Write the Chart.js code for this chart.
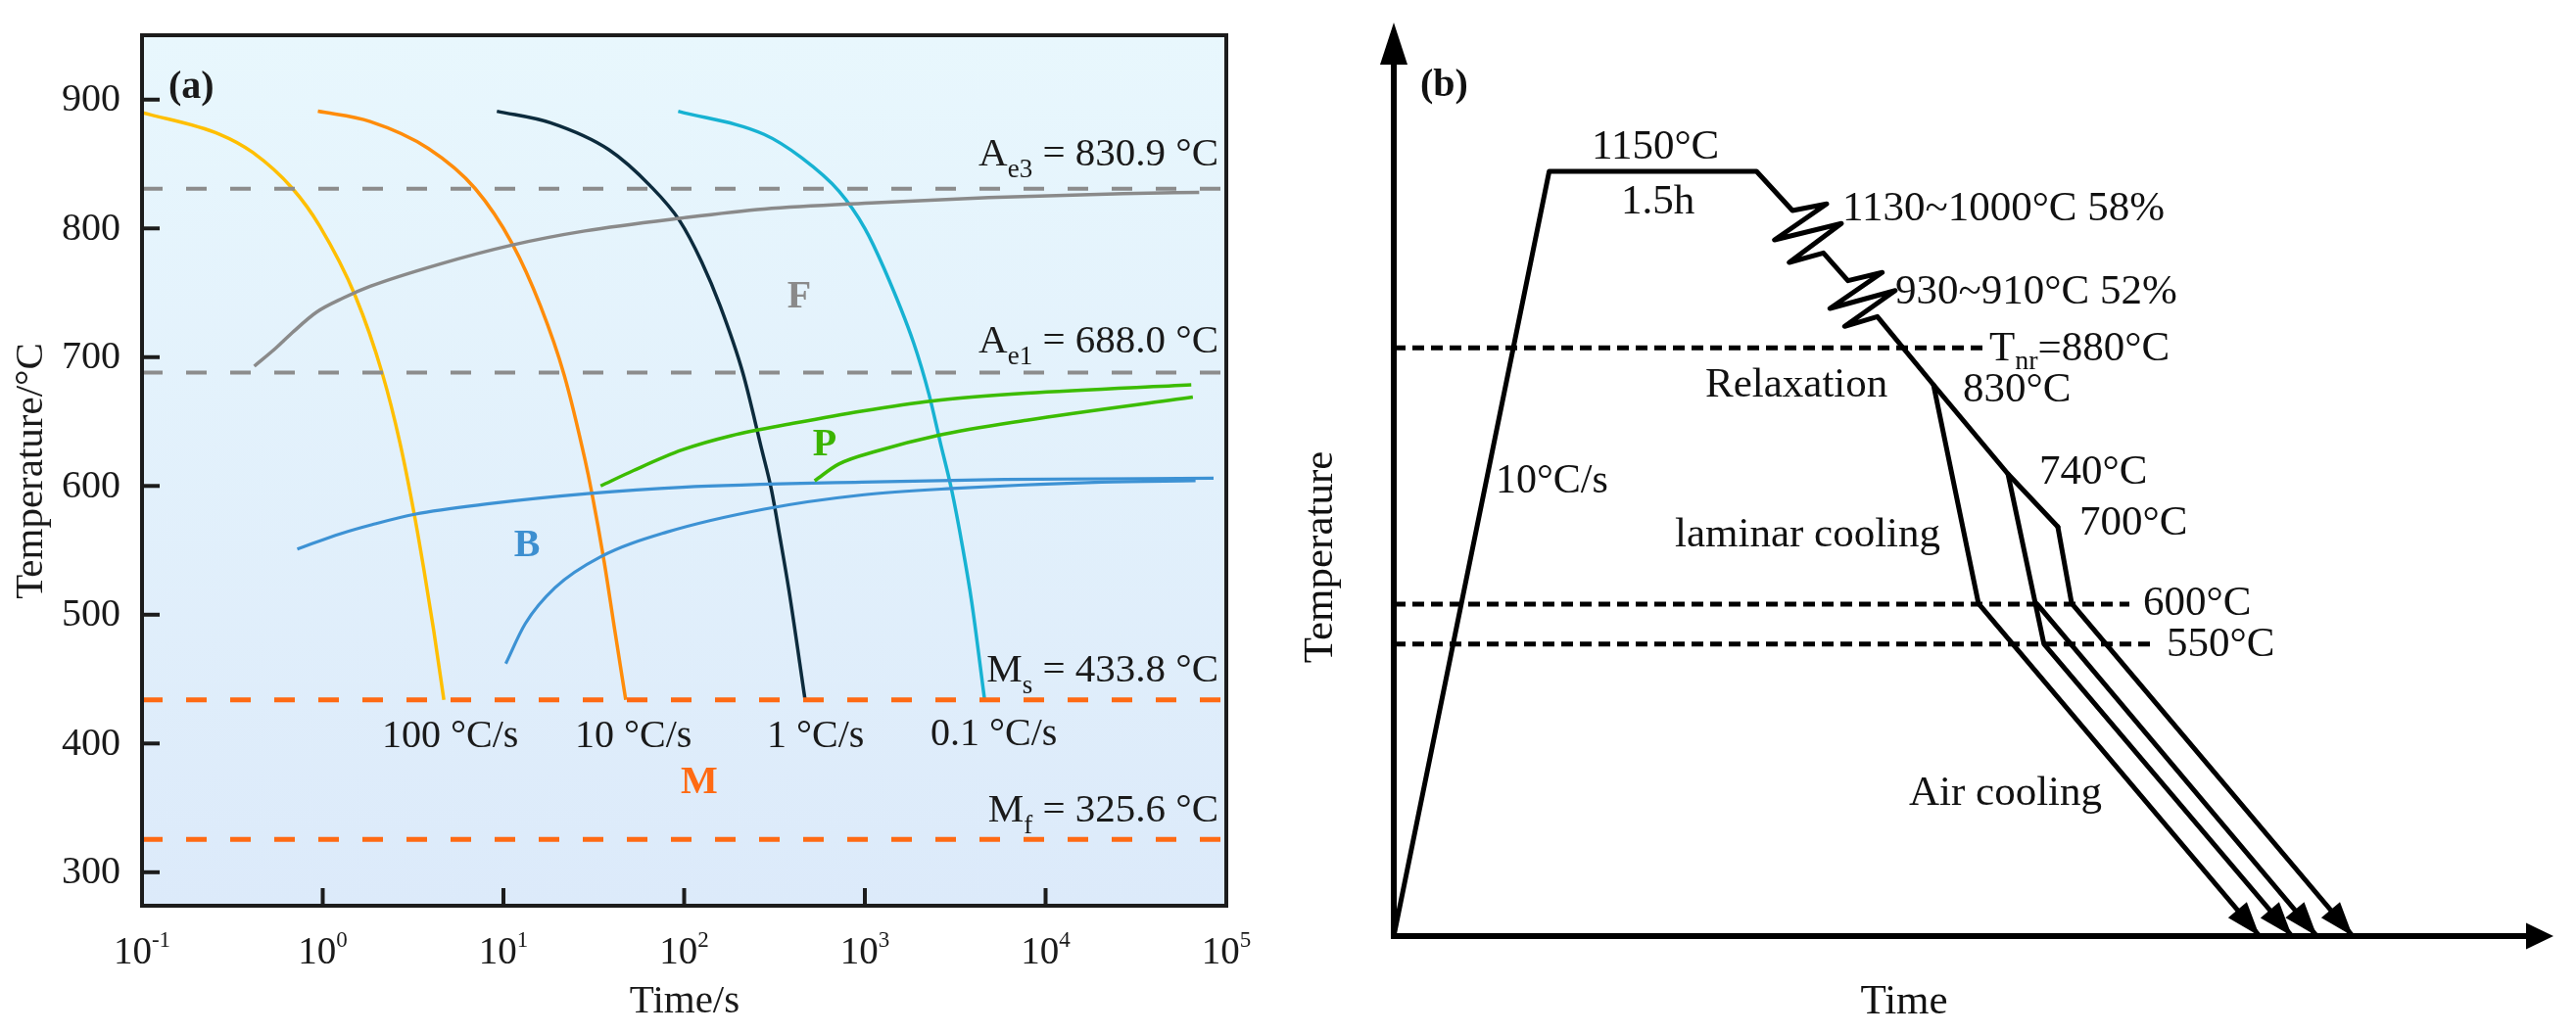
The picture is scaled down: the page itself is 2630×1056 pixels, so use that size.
<!DOCTYPE html>
<html><head><meta charset="utf-8">
<script src="https://cdn.jsdelivr.net/npm/chart.js@4.4.1/dist/chart.umd.min.js"></script>
<style>
html,body{margin:0;padding:0;background:#fff;width:2630px;height:1056px;overflow:hidden;}
canvas{position:absolute;top:0;}
#ca{left:0;} #cb{left:1300px;}
</style></head><body>
<canvas id="ca" width="1300" height="1056"></canvas>
<canvas id="cb" width="1330" height="1056"></canvas>
<script>
// ================= Panel (a) data: CCT diagram =================
const xTickValues = [0.1, 1, 10, 100, 1000, 10000, 100000];
const xTickExponents = ['-1', '0', '1', '2', '3', '4', '5'];
const yTickValues = [300, 400, 500, 600, 700, 800, 900];
const refSymbols = ['A', 'A', 'M', 'M'];
const refSubs = ['e3', 'e1', 's', 'f'];
const refTemps = [830.9, 688.0, 433.8, 325.6];
const coolingRates = ['100', '10', '1', '0.1'];
const phaseLetters = ['F', 'P', 'B', 'M'];

const cool100Time = [0.1, 0.27, 0.41, 0.68, 0.96, 1.52, 2.14, 2.67, 3.21, 3.63, 4.11, 4.68];
const cool100Temp = [890, 873, 859, 831, 802, 747, 687, 634, 578, 535, 488, 433.8];
const cool10Time = [0.94, 1.83, 3.85, 6.97, 11.2, 16.0, 21.7, 28.2, 30.9, 36.1, 41.3, 47.5];
const cool10Temp = [891, 883, 862, 831, 788, 740, 686, 621, 594, 541, 488, 433.8];
const cool1Time = [9.2, 18.2, 38.4, 65, 94.4, 125, 158, 211, 269, 304, 339, 380, 467];
const cool1Temp = [891, 882, 861, 833, 806, 774, 740, 688, 628, 597, 560, 519, 433.8];
const cool01Time = [92.7, 277, 445, 718, 1000, 1276, 1862, 2265, 2612, 3020, 3467, 3900, 4600];
const cool01Temp = [891, 873, 855, 829, 800, 769, 711, 671, 634, 597, 553, 510, 433.8];

const ferriteTime = [0.418, 0.55, 0.678, 0.925, 1.3, 1.83, 4.37, 11.1, 28.2, 97, 277, 1159, 4853, 26900, 70800];
const ferriteTemp = [693, 707, 719, 735, 746, 755, 772, 787, 798, 808, 815, 820, 824, 827, 828];
const pearlite1Time = [34.5, 52.5, 97.7, 182, 417, 955, 2366, 7834, 64000];
const pearlite1Temp = [600, 612, 628, 639, 649, 658, 666, 672, 678.5];
const pearlite2Time = [527, 718, 1159, 2489, 7834, 65300];
const pearlite2Temp = [604, 617, 627, 639, 651, 669];
const bainite1Time = [0.723, 1.26, 1.88, 3.22, 8.13, 29.2, 97.7, 964, 5890, 85000];
const bainite1Temp = [551, 563, 570, 578, 586, 594, 599, 603, 605, 606];
const bainite2Time = [10.3, 13.2, 19.3, 34.5, 79.4, 277, 964, 3020, 20400, 67600];
const bainite2Temp = [462, 493, 521, 545, 564, 582, 593, 598, 603, 604];

// ================= Panel (b) data: schematic process (schematic units) =================
const mainPathX = [0, 13.4, 31.28, 34.38, 37.33, 32.83, 38.6, 34.1, 37.05, 39.16, 42.12, 37.61, 43.24, 38.88, 41.7, 46.54, 52.96, 57.26];
const mainPathY = [0, 83.71, 83.71, 79.42, 80.14, 76.21, 78.0, 73.74, 74.78, 71.74, 72.64, 68.7, 70.66, 66.74, 67.81, 60.34, 50.59, 44.8];
const route830X = [46.54, 50.42, 74.66];
const route830Y = [60.34, 36.39, 0];
const route740to550X = [52.96, 56.06, 77.45];
const route740to550Y = [50.59, 31.99, 0];
const route740at600X = [55.49, 79.6];
const route740at600Y = [36.33, 0];
const route700X = [57.26, 58.45, 82.69];
const route700Y = [44.8, 36.44, 0];
const dashLevels = [64.4, 36.33, 31.96];     // Tnr=880°C, 600°C, 550°C
const dashEnds = [51.06, 63.43, 65.75];

// ================= helpers =================
const FONT = '"Liberation Serif", "Times New Roman", Times, serif';
function pts(xs, ys) { return xs.map((x, i) => ({ x: x, y: ys[i] })); }
function setFont(ctx, size, weight) { ctx.font = (weight || 'normal') + ' ' + size + 'px ' + FONT; }
function drawRuns(ctx, parts, x, y, align) {
  const widths = parts.map(p => { setFont(ctx, p[1], p[3]); return ctx.measureText(p[0]).width; });
  const total = widths.reduce((a, b) => a + b, 0);
  let cx = align === 'right' ? x - total : (align === 'center' ? x - total / 2 : x);
  ctx.textAlign = 'left';
  ctx.textBaseline = 'alphabetic';
  parts.forEach((p, i) => { setFont(ctx, p[1], p[3]); ctx.fillText(p[0], cx, y + (p[2] || 0)); cx += widths[i]; });
}
function text(ctx, s, x, y, size, align, weight, base) {
  setFont(ctx, size, weight);
  ctx.textAlign = align || 'left';
  ctx.textBaseline = base || 'alphabetic';
  ctx.fillText(s, x, y);
}
function arrowHead(ctx, x1, y1, x2, y2, len, half) {
  const a = Math.atan2(y2 - y1, x2 - x1);
  const bx = x2 - len * Math.cos(a), by = y2 - len * Math.sin(a);
  ctx.beginPath();
  ctx.moveTo(x2, y2);
  ctx.lineTo(bx + half * Math.sin(a), by - half * Math.cos(a));
  ctx.lineTo(bx - half * Math.sin(a), by + half * Math.cos(a));
  ctx.closePath();
  ctx.fill();
}

// ================= Chart A =================
const curve = (label, xs, ys, color, w) => ({
  label: label, data: pts(xs, ys), borderColor: color, borderWidth: w,
  pointRadius: 0, cubicInterpolationMode: 'monotone', fill: false
});
const xMin = xTickValues[0], xMax = xTickValues[xTickValues.length - 1];
const refColors = ['#8c8c8c', '#8c8c8c', '#ff6a13', '#ff6a13'];
const refWidths = [4, 4, 5, 5];
const refDatasets = refTemps.map((t, i) => ({
  label: refSymbols[i] + refSubs[i], data: pts([xMin, xMax], [t, t]),
  borderColor: refColors[i], borderWidth: refWidths[i], borderDash: [21, 24], pointRadius: 0, borderCapStyle: 'butt'
}));

const panelA = {
  id: 'panelA',
  beforeDatasetsDraw(chart) {
    const { ctx, chartArea: a } = chart;
    const g = ctx.createLinearGradient(0, a.top, 0, a.bottom);
    g.addColorStop(0, '#e8f7fd');
    g.addColorStop(1, '#dceafa');
    ctx.save(); ctx.fillStyle = g; ctx.fillRect(a.left, a.top, a.right - a.left, a.bottom - a.top); ctx.restore();
  },
  afterDatasetsDraw(chart) {
    const { ctx, chartArea: a } = chart;
    const xs = chart.scales.x, ys = chart.scales.y;
    ctx.save();
    ctx.strokeStyle = '#1c1c1c'; ctx.lineWidth = 4;
    ctx.strokeRect(a.left, a.top, a.right - a.left, a.bottom - a.top);
    ctx.lineWidth = 4;
    yTickValues.forEach(v => { const y = ys.getPixelForValue(v); ctx.beginPath(); ctx.moveTo(a.left, y); ctx.lineTo(a.left + 18, y); ctx.stroke(); });
    xTickValues.forEach(v => { const x = xs.getPixelForValue(v); ctx.beginPath(); ctx.moveTo(x, a.bottom); ctx.lineTo(x, a.bottom - 18); ctx.stroke(); });
    ctx.fillStyle = '#1a1a1a';
    yTickValues.forEach(v => text(ctx, String(v), a.left - 22, ys.getPixelForValue(v) + 1, 40, 'right', 'normal', 'middle'));
    xTickValues.forEach((v, i) => drawRuns(ctx, [['10', 39], [xTickExponents[i], 23, -17]], xs.getPixelForValue(v), 984, 'center'));
    text(ctx, 'Time/s', 699, 1034, 41, 'center');
    ctx.save(); ctx.translate(32, 481); ctx.rotate(-Math.PI / 2);
    text(ctx, 'Temperature/°C', 0, 0, 41, 'center', 'normal', 'middle'); ctx.restore();
    text(ctx, '(a)', 172, 100, 40, 'left', 'bold');
    const lift = [24, 21, 19, 18];
    refTemps.forEach((t, i) => {
      drawRuns(ctx, [[refSymbols[i], 41], [refSubs[i], 27, 12], [' = ' + t.toFixed(1) + ' °C', 41]],
        1244, ys.getPixelForValue(t) - lift[i], 'right');
    });
    const rateX = [390, 587, 783, 950];
    coolingRates.forEach((r, i) => text(ctx, r + ' °C/s', rateX[i], i === 3 ? 761 : 763, 40, 'left'));
    const phasePos = [[816, 304, '#8a8a8a'], [842, 455, '#3cb400'], [538, 558, '#3d8fd0'], [714, 800, '#ff6a13']];
    phaseLetters.forEach((p, i) => { ctx.fillStyle = phasePos[i][2]; text(ctx, p, phasePos[i][0], phasePos[i][1], 40, 'center', 'bold', 'middle'); });
    ctx.restore();
  }
};

new Chart(document.getElementById('ca'), {
  type: 'line',
  data: {
    datasets: [
      ...refDatasets,
      curve('F start', ferriteTime, ferriteTemp, '#8a8a8a', 3.5),
      curve('P start', pearlite1Time, pearlite1Temp, '#3cbc00', 3.5),
      curve('P finish', pearlite2Time, pearlite2Temp, '#3cbc00', 3.5),
      curve('B start', bainite1Time, bainite1Temp, '#3d92d4', 3.2),
      curve('B finish', bainite2Time, bainite2Temp, '#3d92d4', 3.2),
      curve('100 °C/s', cool100Time, cool100Temp, '#ffbf00', 3.5),
      curve('10 °C/s', cool10Time, cool10Temp, '#ff8c0a', 3.5),
      curve('1 °C/s', cool1Time, cool1Temp, '#0c2b3d', 3.5),
      curve('0.1 °C/s', cool01Time, cool01Temp, '#17b2d2', 3.5)
    ]
  },
  options: {
    responsive: false, animation: false, devicePixelRatio: 1,
    layout: { padding: { left: 145, top: 36, right: 48, bottom: 131 } },
    plugins: { legend: { display: false }, tooltip: { enabled: false } },
    scales: {
      x: { type: 'logarithmic', min: xMin, max: xMax, display: false },
      y: { type: 'linear', min: 274, max: 950, display: false }
    }
  },
  plugins: [panelA]
});

// ================= Chart B =================
const pathDs = (label, xs, ys, arrow) => ({
  label: label, data: pts(xs, ys), borderColor: '#000', borderWidth: 5, pointRadius: 0,
  tension: 0, borderJoinStyle: 'round', borderCapStyle: 'round', fill: false, arrowHead: arrow
});
const dashDs = dashLevels.map((lv, i) => ({
  label: 'level' + i, data: pts([0, dashEnds[i]], [lv, lv]), borderColor: '#000', borderWidth: 5,
  borderDash: [12, 7], borderCapStyle: 'butt', pointRadius: 0, tension: 0
}));

const panelB = {
  id: 'panelB',
  afterDatasetsDraw(chart) {
    const { ctx, chartArea: a } = chart;
    ctx.save();
    ctx.fillStyle = '#000'; ctx.strokeStyle = '#000';
    ctx.lineWidth = 6; ctx.lineJoin = 'miter'; ctx.lineCap = 'butt';
    ctx.beginPath(); ctx.moveTo(a.left, a.top + 30); ctx.lineTo(a.left, a.bottom); ctx.lineTo(a.right - 20, a.bottom); ctx.stroke();
    arrowHead(ctx, a.left, a.bottom, a.left, a.top, 43, 14);
    arrowHead(ctx, a.left, a.bottom, a.right, a.bottom, 28, 13.5);
    chart.data.datasets.forEach((ds, i) => {
      if (!ds.arrowHead) return;
      const el = chart.getDatasetMeta(i).data;
      const p1 = el[el.length - 2], p2 = el[el.length - 1];
      arrowHead(ctx, p1.x, p1.y, p2.x, p2.y, 35, 12.5);
    });
    ctx.translate(-1300, 0);
    ctx.fillStyle = '#111';
    text(ctx, '(b)', 1450, 98, 40, 'left', 'bold');
    const S = 43;
    text(ctx, '1150°C', 1625, 162, S);
    text(ctx, '1.5h', 1655, 218, S);
    text(ctx, '1130~1000°C 58%', 1881, 225, S);
    text(ctx, '930~910°C 52%', 1935, 310, S);
    drawRuns(ctx, [['T', S], ['nr', 28, 9], ['=880°C', S]], 2031, 368, 'left');
    text(ctx, 'Relaxation', 1741, 405, S);
    text(ctx, '830°C', 2004, 410, S);
    text(ctx, '740°C', 2082, 494, S);
    text(ctx, '700°C', 2123, 546, S);
    text(ctx, '10°C/s', 1527, 503, 42);
    text(ctx, 'laminar cooling', 1710, 558, S);
    text(ctx, '600°C', 2188, 628, S);
    text(ctx, '550°C', 2212, 670, S);
    text(ctx, 'Air cooling', 1949, 822, S);
    text(ctx, 'Time', 1944, 1035, S, 'center');
    ctx.save(); ctx.translate(1349, 569); ctx.rotate(-Math.PI / 2);
    text(ctx, 'Temperature', 0, 0, S, 'center', 'normal', 'middle'); ctx.restore();
    ctx.restore();
  }
};

new Chart(document.getElementById('cb'), {
  type: 'line',
  data: {
    datasets: [
      ...dashDs,
      pathDs('process', mainPathX, mainPathY, false),
      pathDs('830→600', route830X, route830Y, true),
      pathDs('740→550', route740to550X, route740to550Y, true),
      pathDs('740→600', route740at600X, route740at600Y, true),
      pathDs('700→600', route700X, route700Y, true)
    ]
  },
  options: {
    responsive: false, animation: false, devicePixelRatio: 1,
    layout: { padding: { left: 123, top: 23, right: 23, bottom: 100 } },
    plugins: { legend: { display: false }, tooltip: { enabled: false } },
    scales: {
      x: { type: 'linear', min: 0, max: 100, display: false },
      y: { type: 'linear', min: 0, max: 100, display: false }
    }
  },
  plugins: [panelB]
});
</script>
</body></html>
